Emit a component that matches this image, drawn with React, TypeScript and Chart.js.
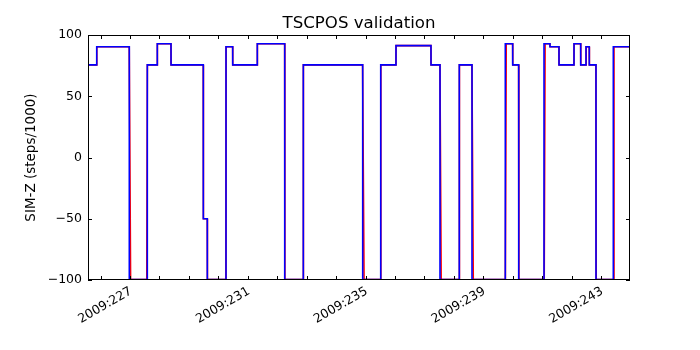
import React, { useEffect, useRef } from 'react';
import { Chart, registerables } from 'chart.js';

Chart.register(...registerables);

const TITLE = 'TSCPOS validation';
const Y_LABEL = 'SIM-Z (steps/1000)';
const YEAR = '2009';
const X_MIN = 225.573;
const X_MAX = 243.984;
const DAY_TICKS = [226, 227, 228, 229, 230, 231, 232, 233, 234, 235, 236, 237, 238, 239, 240, 241, 242, 243];
const MAJOR_DAYS = [227, 231, 235, 239, 243];
const Y_TICKS = [-100, -50, 0, 50, 100];

// Blue series (step changes: value starts at the given day)
const blueTimes = [
  225.573, 225.869, 226.976, 227.588, 227.927, 228.393, 229.49, 229.626, 230.261, 230.488,
  231.324, 232.255, 232.887, 234.904, 235.516, 236.035, 237.224, 237.53, 238.185, 238.617,
  239.748, 239.999, 240.203, 241.063, 241.266, 241.572, 242.082, 242.309, 242.489, 242.601,
  242.829, 243.417, 243.984,
];
const blueValues = [
  75.6, 90.4, -99.6, 75.6, 92.9, 75.6, -50.0, -99.6, 90.4, 75.6,
  92.9, -99.6, 75.6, -99.6, 75.6, 91.3, 75.6, -99.6, 75.6, -99.6,
  92.9, 75.6, -99.6, 92.9, 90.4, 75.6, 92.9, 75.6, 90.4, 75.6,
  -99.6, 90.4, 90.4,
];

// Red series (sampled, linearly joined)
const redTimes = [
  225.573, 225.866, 225.872, 226.974, 227.02, 227.57, 227.59, 227.925, 227.93, 228.39,
  228.396, 229.488, 229.494, 229.624, 229.63, 230.258, 230.264, 230.486, 230.49, 231.322,
  231.327, 232.253, 232.26, 232.885, 232.89, 234.9, 234.95, 235.51, 235.52, 236.033,
  236.038, 237.222, 237.227, 237.528, 237.57, 238.18, 238.19, 238.615, 238.66, 239.75,
  239.78, 239.997, 240.002, 240.2, 240.21, 241.07, 241.1, 241.264, 241.268, 241.57,
  241.575, 242.08, 242.085, 242.307, 242.312, 242.49, 242.495, 242.598, 242.605, 242.826,
  242.835, 243.42, 243.44, 243.984,
];
const redValues = [
  75.6, 75.6, 90.4, 90.4, -99.6, -99.6, 75.6, 75.6, 92.9, 92.9,
  75.6, 75.6, -50.0, -50.0, -99.6, -99.6, 90.4, 90.4, 75.6, 75.6,
  92.9, 92.9, -99.6, -99.6, 75.6, 75.6, -99.6, -99.6, 75.6, 75.6,
  91.3, 91.3, 75.6, 75.6, -99.6, -99.6, 75.6, 75.6, -99.6, -99.6,
  92.9, 92.9, 75.6, 75.6, -99.6, -99.6, 92.9, 92.9, 90.4, 90.4,
  75.6, 75.6, 92.9, 92.9, 75.6, 75.6, 90.4, 90.4, 75.6, 75.6,
  -99.6, -99.6, 90.4, 90.4,
];

const FONT = 'DejaVu Sans';

const framePlugin = {
  id: 'mplFrame',
  afterDraw(chart: any) {
    const { ctx, chartArea, scales } = chart;
    const { left, right, top, bottom } = chartArea;
    const xs = scales.x;
    const ys = scales.y;
    ctx.save();
    ctx.strokeStyle = '#000';
    ctx.lineWidth = 1;
    // ticks (inward, all four sides)
    ctx.beginPath();
    xs.ticks.forEach((t: any) => {
      const px = Math.round(xs.getPixelForValue(t.value)) + 0.5;
      ctx.moveTo(px, bottom);
      ctx.lineTo(px, bottom - 4);
      ctx.moveTo(px, top);
      ctx.lineTo(px, top + 4);
    });
    ys.ticks.forEach((t: any) => {
      const py = Math.round(ys.getPixelForValue(t.value)) + 0.5;
      ctx.moveTo(left, py);
      ctx.lineTo(left + 4, py);
      ctx.moveTo(right, py);
      ctx.lineTo(right - 4, py);
    });
    ctx.stroke();
    // frame
    ctx.strokeRect(Math.round(left) + 0.5, Math.round(top) + 0.5, Math.round(right - left) - 1, Math.round(bottom - top) - 1);
    // rotated x tick labels (matplotlib autofmt_xdate style: 30°, right-aligned)
    ctx.fillStyle = '#000';
    ctx.font = `12.5px "${FONT}"`;
    ctx.textAlign = 'right';
    ctx.textBaseline = 'top';
    xs.ticks.forEach((t: any) => {
      if (!MAJOR_DAYS.includes(t.value)) return;
      const px = xs.getPixelForValue(t.value);
      ctx.save();
      ctx.translate(px - 2, bottom + 5);
      ctx.rotate(-Math.PI / 6);
      ctx.fillText(`${YEAR}:${t.value}`, 0, 0);
      ctx.restore();
    });
    // title
    ctx.font = `16.6px "${FONT}"`;
    ctx.textAlign = 'center';
    ctx.textBaseline = 'alphabetic';
    ctx.fillText(TITLE, (left + right) / 2, 28);
    ctx.restore();
  },
};

export default function App() {
  const ref = useRef<HTMLCanvasElement | null>(null);

  useEffect(() => {
    document.body.style.margin = '0';
    const canvas = ref.current;
    if (!canvas) return;
    const chart = new Chart(canvas, {
      type: 'line',
      data: {
        datasets: [
          {
            label: 'blue',
            data: blueTimes.map((t, i) => ({ x: t, y: blueValues[i] })),
            borderColor: '#0000ff',
            borderWidth: 1.6,
            pointRadius: 0,
            stepped: 'before',
            fill: false,
            order: 0,
          },
          {
            label: 'red',
            data: redTimes.map((t, i) => ({ x: t, y: redValues[i] })),
            borderColor: '#ff0000',
            borderWidth: 1.6,
            pointRadius: 0,
            fill: false,
            tension: 0,
            order: 1,
          },
        ],
      },
      options: {
        animation: false,
        responsive: false,
        maintainAspectRatio: false,
        devicePixelRatio: 1,
        layout: { padding: { top: 35, right: 70, left: 0, bottom: 0 } },
        plugins: {
          legend: { display: false },
          tooltip: { enabled: false },
          title: { display: false },
        },
        scales: {
          x: {
            type: 'linear',
            min: X_MIN,
            max: X_MAX,
            grid: { display: false, drawTicks: false },
            border: { display: false },
            afterBuildTicks: (s: any) => {
              s.ticks = DAY_TICKS.map((v) => ({ value: v }));
            },
            afterFit: (s: any) => {
              s.height = 70;
            },
            ticks: {
              display: false,
              autoSkip: false,
            },
          },
          y: {
            type: 'linear',
            min: -100,
            max: 100,
            grid: { display: false, drawTicks: false },
            border: { display: false },
            afterBuildTicks: (s: any) => {
              s.ticks = Y_TICKS.map((v) => ({ value: v }));
            },
            afterFit: (s: any) => {
              s.width = 88;
            },
            ticks: {
              padding: 6,
              color: '#000',
              font: { family: FONT, size: 12.5 },
              callback: (v: any) => String(v).replace('-', '\u2212'),
            },
            title: {
              display: true,
              text: Y_LABEL,
              color: '#000',
              font: { family: FONT, size: 13.5 },
              padding: { top: 23, bottom: 0 },
            },
          },
        },
      },
      plugins: [framePlugin],
    } as any);
    return () => chart.destroy();
  }, []);

  return (
    <div style={{ width: 700, height: 350, background: '#fff' }}>
      <canvas ref={ref} width={700} height={350} style={{ display: 'block' }} />
    </div>
  );
}
